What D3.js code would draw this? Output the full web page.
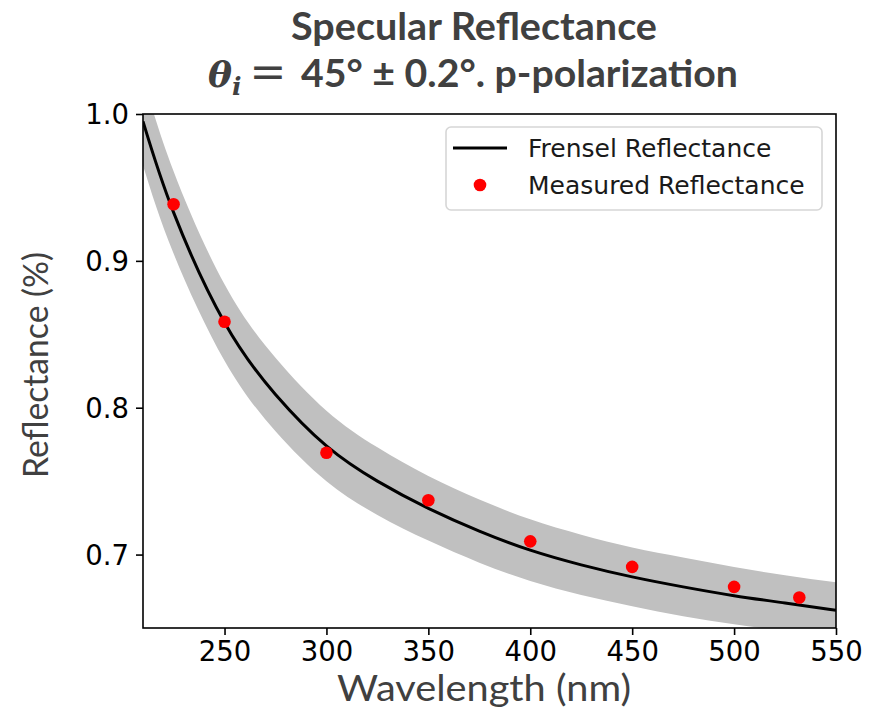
<!DOCTYPE html>
<html>
<head>
<meta charset="utf-8">
<script src="https://cdn.jsdelivr.net/npm/d3@7"></script>
<style>
  body { margin: 0; background: #fff; }
  .tick text { font-family: "DejaVu Sans", sans-serif; font-size: 27.5px; fill: #000; }
  .ppt-text { font-family: Lato, "Open Sans", sans-serif; fill: #404040; }
  .legend-text { font-family: "DejaVu Sans", sans-serif; font-size: 25px; fill: #1a1a1a; }
</style>
</head>
<body>
<div id="chart"></div>
<script>
// Specular reflectance, Fresnel curve with +-0.2 deg band and measured points

const WIDTH = 869
const HEIGHT = 720

// Fresnel curve
const curveWavelength = [210, 225, 250, 275, 300, 325, 350, 375, 400, 425, 450, 475, 500, 525, 550]
const curveReflectance = [0.995, 0.933, 0.858, 0.809, 0.774, 0.750, 0.7315, 0.716, 0.703, 0.693, 0.6848, 0.678, 0.672, 0.667, 0.6621]
const bandUpper = [1.025, 0.961, 0.884, 0.834, 0.798, 0.773, 0.7535, 0.7375, 0.724, 0.7135, 0.7048, 0.698, 0.6915, 0.686, 0.6811]
const bandLower = [0.965, 0.905, 0.832, 0.784, 0.750, 0.727, 0.7095, 0.6945, 0.682, 0.6725, 0.6648, 0.658, 0.6525, 0.648, 0.6431]

// Measured points
const measuredWavelength = [225, 250, 300, 350, 400, 450, 500, 532]
const measuredReflectance = [0.9385, 0.8585, 0.7693, 0.737, 0.709, 0.6916, 0.678, 0.6708]

// Ticks
const xTicks = [250, 300, 350, 400, 450, 500, 550]
const yTicks = [0.7, 0.8, 0.9, 1.0]

const MARGIN = { top: 114, bot: 92, left: 143, right: 33 }

const SVG = d3.select("#chart")
  .append("svg")
  .attr("width", WIDTH)
  .attr("height", HEIGHT)

const xScale = d3.scaleLinear()
  .domain([210, 550])
  .range([MARGIN.left, WIDTH - MARGIN.right])

const yScale = d3.scaleLinear()
  .domain([0.65, 1.0])
  .range([HEIGHT - MARGIN.bot, MARGIN.top])

SVG.append("clipPath")
  .attr("id", "plot-clip")
  .append("rect")
  .attr("x", MARGIN.left)
  .attr("y", MARGIN.top)
  .attr("width", WIDTH - MARGIN.left - MARGIN.right)
  .attr("height", HEIGHT - MARGIN.top - MARGIN.bot)

const curveData = curveWavelength.map((w, i) => ({
  w: w,
  r: curveReflectance[i],
  hi: bandUpper[i],
  lo: bandLower[i]
}))
const measured = measuredWavelength.map((w, i) => ({ w: w, r: measuredReflectance[i] }))

const plot = SVG.append("g").attr("clip-path", "url(#plot-clip)")

const band = d3.area()
  .x(d => xScale(d.w))
  .y0(d => yScale(d.lo))
  .y1(d => yScale(d.hi))
  .curve(d3.curveNatural)

plot.append("path")
  .datum(curveData)
  .attr("d", band)
  .attr("fill", "#c0c0c0")

const line = d3.line()
  .x(d => xScale(d.w))
  .y(d => yScale(d.r))
  .curve(d3.curveNatural)

plot.append("path")
  .datum(curveData)
  .attr("d", line)
  .attr("fill", "none")
  .attr("stroke", "#000")
  .attr("stroke-width", 3)

plot.selectAll("circle.measured")
  .data(measured)
  .join("circle")
  .attr("class", "measured")
  .attr("cx", d => xScale(d.w))
  .attr("cy", d => yScale(d.r))
  .attr("r", 6.3)
  .attr("fill", "#ff0000")

// Ejes
const xAxis = d3.axisBottom(xScale)
  .tickValues(xTicks)
  .tickSize(7)
  .tickPadding(6)
  .tickFormat(d3.format("d"))

const yAxis = d3.axisLeft(yScale)
  .tickValues(yTicks)
  .tickSize(7)
  .tickPadding(7)
  .tickFormat(d3.format(".1f"))

SVG.append("g")
  .attr("transform", `translate(0, ${HEIGHT - MARGIN.bot})`)
  .call(xAxis)
  .call(g => g.select(".domain").remove())
  .call(g => g.selectAll(".tick line").attr("stroke", "#000").attr("stroke-width", 1.6))

SVG.append("g")
  .attr("transform", `translate(${MARGIN.left}, 0)`)
  .call(yAxis)
  .call(g => g.select(".domain").remove())
  .call(g => g.selectAll(".tick line").attr("stroke", "#000").attr("stroke-width", 1.6))
  .call(g => g.selectAll(".tick text").attr("dy", "0.36em"))

SVG.append("rect")
  .attr("x", MARGIN.left)
  .attr("y", MARGIN.top)
  .attr("width", WIDTH - MARGIN.left - MARGIN.right)
  .attr("height", HEIGHT - MARGIN.top - MARGIN.bot)
  .attr("fill", "none")
  .attr("stroke", "#000")
  .attr("stroke-width", 1.6)

// Legend
const legend = SVG.append("g").attr("class", "legend")

legend.append("rect")
  .attr("x", 446)
  .attr("y", 127)
  .attr("width", 376)
  .attr("height", 83)
  .attr("rx", 5)
  .attr("fill", "#fff")
  .attr("fill-opacity", 0.8)
  .attr("stroke", "#d6d6d6")
  .attr("stroke-width", 1.6)

legend.append("line")
  .attr("x1", 453)
  .attr("x2", 507)
  .attr("y1", 148)
  .attr("y2", 148)
  .attr("stroke", "#000")
  .attr("stroke-width", 3)

legend.append("circle")
  .attr("cx", 480)
  .attr("cy", 185)
  .attr("r", 6.3)
  .attr("fill", "#ff0000")

legend.append("text")
  .attr("class", "legend-text")
  .attr("x", 528)
  .attr("y", 157)
  .text("Frensel Reflectance")

legend.append("text")
  .attr("class", "legend-text")
  .attr("x", 528)
  .attr("y", 194)
  .text("Measured Reflectance")

// Titulos
SVG.append("text")
  .attr("class", "ppt-text")
  .attr("x", 474)
  .attr("y", 40)
  .attr("text-anchor", "middle")
  .attr("font-size", 38)
  .attr("font-weight", "bold")
  .attr("textLength", 366)
  .attr("lengthAdjust", "spacingAndGlyphs")
  .text("Specular Reflectance")

const mathText = SVG.append("text")
  .attr("x", 208)
  .attr("y", 87)
  .attr("font-family", "'DejaVu Serif', 'Liberation Serif', serif")
  .attr("fill", "#404040")
  .attr("font-size", 36)

mathText.append("tspan")
  .attr("font-style", "italic")
  .attr("font-weight", "bold")
  .text("θ")
mathText.append("tspan")
  .attr("font-style", "italic")
  .attr("font-weight", "bold")
  .attr("font-size", 25)
  .attr("dy", 8)
  .text("i")
mathText.append("tspan")
  .attr("dy", -8)
  .attr("dx", 8)
  .attr("font-size", 44)
  .text("=")

SVG.append("text")
  .attr("class", "ppt-text")
  .attr("x", 301)
  .attr("y", 87)
  .attr("font-size", 38)
  .attr("font-weight", "bold")
  .attr("textLength", 437)
  .attr("lengthAdjust", "spacingAndGlyphs")
  .text("45° ± 0.2°. p-polarization")

SVG.append("text")
  .attr("class", "ppt-text")
  .attr("x", 484)
  .attr("y", 701)
  .attr("text-anchor", "middle")
  .attr("font-size", 36)
  .attr("textLength", 294)
  .attr("lengthAdjust", "spacingAndGlyphs")
  .text("Wavelength (nm)")

SVG.append("text")
  .attr("class", "ppt-text")
  .attr("transform", "translate(48, 365) rotate(-90)")
  .attr("text-anchor", "middle")
  .attr("font-size", 34)
  .attr("textLength", 226)
  .attr("lengthAdjust", "spacingAndGlyphs")
  .text("Reflectance (%)")
</script>
</body>
</html>
